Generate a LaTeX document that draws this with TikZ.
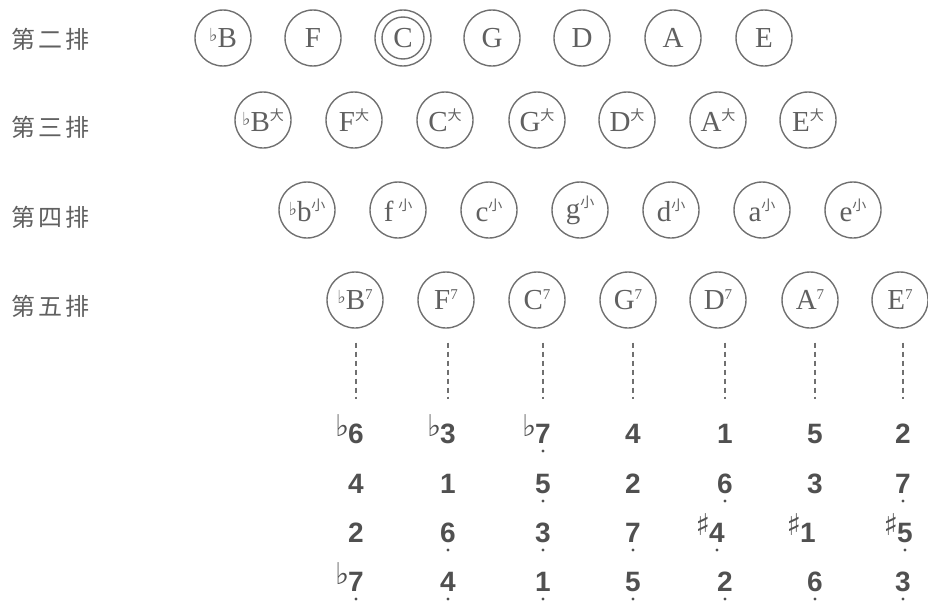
\documentclass[tikz,border=0pt]{standalone}
\usepackage{fontspec}
\setmainfont{Liberation Serif}
\newfontfamily\cjk{Noto Sans CJK SC}
\newfontfamily\numfont{Liberation Sans}
\newfontfamily\accfont{DejaVu Sans}
\definecolor{ink}{HTML}{606060}
\definecolor{ring}{HTML}{707070}
\definecolor{numink}{HTML}{505050}
\newcommand\MyAcc[1]{\llap{\raisebox{7pt}{\accfont\fontsize{30}{30}\selectfont #1}\hspace{-1pt}}}
\newcommand\MyFlt{\MyAcc{♭}}
\newcommand\MyShp{\MyAcc{♯}}
\newcommand\MyCflat{{\accfont\raisebox{6pt}{\fontsize{18}{18}\selectfont ♭}}}
\newcommand\MyDa{\raisebox{11pt}{\cjk\fontsize{14}{14}\selectfont 大}}
\newcommand\MyXiao{\raisebox{11pt}{\cjk\fontsize{14}{14}\selectfont 小}}
\newcommand\MySv{\raisebox{10pt}{\fontsize{15}{15}\selectfont 7}}
\begin{document}
\begin{tikzpicture}[x=1pt,y=-1pt,
  key/.style={circle,draw=ring,line width=1.4pt,minimum size=56pt,inner sep=0pt,text=ink,font=\fontsize{29}{29}\selectfont},
  lbl/.style={anchor=west,text=ink,inner sep=0pt,font=\cjk\fontsize{24}{24}\selectfont},
  num/.style={text=numink,inner sep=0pt,anchor=base,font=\numfont\bfseries\fontsize{28}{28}\selectfont},
  dashline/.style={draw=ring,line width=1.3pt,dash pattern=on 5pt off 4pt},
  ldot/.style={fill=numink}]
\useasboundingbox (0,0) rectangle (928,605);
% row labels
\node[lbl] (l2) at (11,39) {第\hspace{3pt}二\hspace{3pt}排};
\node[lbl] (l3) at (11,127) {第\hspace{3pt}三\hspace{3pt}排};
\node[lbl] (l4) at (11,217) {第\hspace{3pt}四\hspace{3pt}排};
\node[lbl] (l5) at (11,306) {第\hspace{3pt}五\hspace{3pt}排};
% row 2
\node[key] (a1) at (223,38) {\MyCflat B};
\node[key] (a2) at (313,38) {F};
\node[key] (a3) at (403,38) {C};
\node[circle,draw=ring,line width=1.4pt,minimum size=42pt,inner sep=0pt] (a3i) at (a3) {};
\node[key] (a4) at (492,38) {G};
\node[key] (a5) at (582,38) {D};
\node[key] (a6) at (673,38) {A};
\node[key] (a7) at (764,38) {E};
% row 3
\node[key] (b1) at (263,120) {\MyCflat B\MyDa};
\node[key] (b2) at (354,120) {F\MyDa};
\node[key] (b3) at (445,120) {C\MyDa};
\node[key] (b4) at (537,120) {G\MyDa};
\node[key] (b5) at (627,120) {D\MyDa};
\node[key] (b6) at (718,120) {A\MyDa};
\node[key] (b7) at (808,120) {E\MyDa};
% row 4
\node[key] (c1) at (307,210) {\MyCflat b\MyXiao};
\node[key] (c2) at (398,210) {f\,\MyXiao};
\node[key] (c3) at (489,210) {c\MyXiao};
\node[key] (c4) at (580,210) {g\MyXiao};
\node[key] (c5) at (671,210) {d\MyXiao};
\node[key] (c6) at (762,210) {a\MyXiao};
\node[key] (c7) at (853,210) {e\MyXiao};
% row 5
\node[key] (f1) at (355,300) {\MyCflat B\MySv};
\node[key] (f2) at (446,300) {F\MySv};
\node[key] (f3) at (537,300) {C\MySv};
\node[key] (f4) at (628,300) {G\MySv};
\node[key] (f5) at (718,300) {D\MySv};
\node[key] (f6) at (810,300) {A\MySv};
\node[key] (f7) at (900,300) {E\MySv};
% numbers
\node[num] (n11) at (356,443) {\MyFlt 6};
\node[num] (n12) at (356,493) {4};
\node[num] (n13) at (356,542) {2};
\node[num] (n14) at (356,591) {\MyFlt 7};
\node[num] (n21) at (448,443) {\MyFlt 3};
\node[num] (n22) at (448,493) {1};
\node[num] (n23) at (448,542) {6};
\node[num] (n24) at (448,591) {4};
\node[num] (n31) at (543,443) {\MyFlt 7};
\node[num] (n32) at (543,493) {5};
\node[num] (n33) at (543,542) {3};
\node[num] (n34) at (543,591) {1};
\node[num] (n41) at (633,443) {4};
\node[num] (n42) at (633,493) {2};
\node[num] (n43) at (633,542) {7};
\node[num] (n44) at (633,591) {5};
\node[num] (n51) at (725,443) {1};
\node[num] (n52) at (725,493) {6};
\node[num] (n53) at (717,542) {\MyShp 4};
\node[num] (n54) at (725,591) {2};
\node[num] (n61) at (815,443) {5};
\node[num] (n62) at (815,493) {3};
\node[num] (n63) at (808,542) {\MyShp 1};
\node[num] (n64) at (815,591) {6};
\node[num] (n71) at (903,443) {2};
\node[num] (n72) at (903,493) {7};
\node[num] (n73) at (905,542) {\MyShp 5};
\node[num] (n74) at (903,591) {3};
% low-octave dots
\foreach \n in {n14,n23,n24,n31,n32,n33,n34,n43,n44,n52,n53,n54,n64,n72,n73,n74}
  \fill[ldot] ([yshift=-8pt]\n.base) circle (1.7pt);
% dashed connectors
\foreach \i in {1,...,7}
  \draw[dashline] ([yshift=-14pt]f\i.south -| n\i1) -- ([yshift=-70pt]f\i.south -| n\i1);
\end{tikzpicture}
\end{document}
